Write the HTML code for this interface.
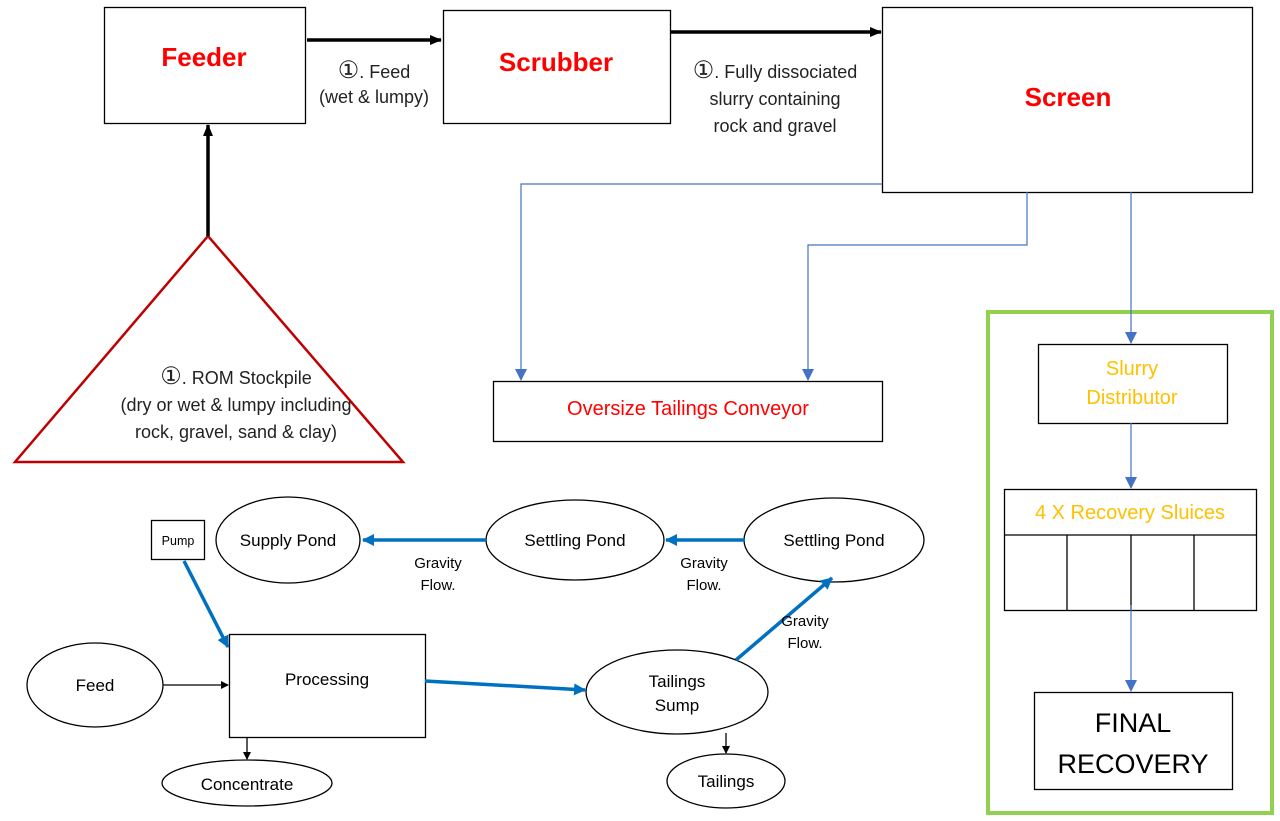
<!DOCTYPE html>
<html><head><style>body{margin:0;background:#fff}svg{display:block}text{font-family:"Liberation Sans",sans-serif}</style></head><body>
<svg width="1280" height="821" viewBox="0 0 1280 821" xmlns="http://www.w3.org/2000/svg">
<defs>
<marker id="ak" markerWidth="8" markerHeight="8" refX="7" refY="4" orient="auto" markerUnits="userSpaceOnUse"><path d="M0,0L8,4L0,8z" fill="#000"/></marker>
<marker id="akb" markerWidth="12" markerHeight="10" refX="11" refY="5" orient="auto" markerUnits="userSpaceOnUse"><path d="M0,0L12,5L0,10z" fill="#000"/></marker>
<marker id="ab" markerWidth="12" markerHeight="12" refX="11" refY="6" orient="auto" markerUnits="userSpaceOnUse"><path d="M0,0L12,6L0,12z" fill="#4472c4"/></marker>
<marker id="abb" markerWidth="12" markerHeight="12" refX="11" refY="6" orient="auto" markerUnits="userSpaceOnUse"><path d="M0,0L12,6L0,12z" fill="#0070c0"/></marker>
</defs>
<g fill="none" stroke="#000" stroke-width="1.3">
<rect x="104.5" y="7.5" width="201" height="116"/>
<rect x="443.5" y="10.5" width="227" height="113"/>
<rect x="882.5" y="7.5" width="370" height="185"/>
<rect x="493.5" y="381.5" width="389" height="60"/>
<rect x="1038.5" y="344.5" width="189" height="79"/>
<rect x="1004.5" y="489.5" width="252" height="121"/>
<path d="M1004 535H1256M1067 535V610M1131 535V610M1194 535V610"/>
<rect x="1034.5" y="692.5" width="198" height="97"/>
<rect x="151.5" y="520.5" width="53" height="39"/>
<ellipse cx="288" cy="540" rx="72" ry="43"/>
<ellipse cx="575" cy="540" rx="89" ry="40"/>
<ellipse cx="834" cy="540" rx="90" ry="42"/>
<rect x="229.5" y="634.5" width="196" height="103"/>
<ellipse cx="95" cy="685" rx="68" ry="42"/>
<ellipse cx="677" cy="692" rx="91" ry="42"/>
<ellipse cx="247" cy="783" rx="85" ry="23"/>
<ellipse cx="726" cy="781" rx="59" ry="27"/>
</g>
<rect x="988" y="312" width="284" height="501" fill="none" stroke="#92d050" stroke-width="4"/>
<polygon points="208,236 15,462 403,462" fill="none" stroke="#c00000" stroke-width="2.5"/>
<g stroke="#000" stroke-width="3.5" fill="none">
<line x1="307" y1="40" x2="441" y2="40" marker-end="url(#akb)"/>
<line x1="670" y1="32" x2="881" y2="32" marker-end="url(#akb)"/>
<line x1="208" y1="236" x2="208" y2="125" marker-end="url(#akb)"/>
</g>
<g stroke="#4472c4" stroke-width="1.2" fill="none">
<path d="M882 184H521V380" marker-end="url(#ab)"/>
<path d="M1027 192V245H808V380" marker-end="url(#ab)"/>
<path d="M1131 192V343" marker-end="url(#ab)"/>
<path d="M1131 423V488" marker-end="url(#ab)"/>
<path d="M1131 605V691" marker-end="url(#ab)"/>
</g>
<g stroke="#0070c0" stroke-width="3.5" fill="none">
<line x1="486" y1="540" x2="363" y2="540" marker-end="url(#abb)"/>
<line x1="745" y1="540" x2="666" y2="540" marker-end="url(#abb)"/>
<line x1="184" y1="561" x2="228" y2="647" marker-end="url(#abb)"/>
<line x1="425" y1="681" x2="585" y2="690" marker-end="url(#abb)"/>
<line x1="736" y1="660" x2="832" y2="578" marker-end="url(#abb)"/>
</g>
<g stroke="#000" stroke-width="1.3">
<line x1="163" y1="685" x2="228" y2="685" marker-end="url(#ak)"/>
<line x1="247" y1="737" x2="247" y2="759" marker-end="url(#ak)"/>
<line x1="726" y1="733" x2="726" y2="753" marker-end="url(#ak)"/>
</g>
<g text-anchor="middle">
<g fill="#ff0000" font-weight="bold" font-size="26">
<text x="204" y="66">Feeder</text>
<text x="556" y="71">Scrubber</text>
<text x="1068" y="106">Screen</text>
</g>
<g font-size="18" fill="#222">
<text x="374" y="78"><tspan font-size="24">①</tspan>. Feed</text>
<text x="374" y="103">(wet &amp; lumpy)</text>
<text x="775" y="78"><tspan font-size="24">①</tspan>. Fully dissociated</text>
<text x="775" y="105">slurry containing</text>
<text x="775" y="132">rock and gravel</text>
<text x="236" y="384"><tspan font-size="24">①</tspan>. ROM Stockpile</text>
<text x="236" y="411">(dry or wet &amp; lumpy including</text>
<text x="236" y="438">rock, gravel, sand &amp; clay)</text>
</g>
<text x="688" y="415" font-size="20" fill="#ff0000">Oversize Tailings Conveyor</text>
<g font-size="20" fill="#ffc000">
<text x="1132" y="375">Slurry</text>
<text x="1132" y="404">Distributor</text>
<text x="1130" y="519">4 X Recovery Sluices</text>
</g>
<g font-size="27" fill="#000">
<text x="1133" y="732">FINAL</text>
<text x="1133" y="773">RECOVERY</text>
</g>
<g font-size="17" fill="#000">
<text x="288" y="546">Supply Pond</text>
<text x="575" y="546">Settling Pond</text>
<text x="834" y="546">Settling Pond</text>
<text x="327" y="685">Processing</text>
<text x="95" y="691">Feed</text>
<text x="677" y="687">Tailings</text>
<text x="677" y="711">Sump</text>
<text x="247" y="790">Concentrate</text>
<text x="726" y="787">Tailings</text>
</g>
<text x="178" y="545" font-size="12.5">Pump</text>
<g font-size="15" fill="#000">
<text x="438" y="568">Gravity</text><text x="438" y="590">Flow.</text>
<text x="704" y="568">Gravity</text><text x="704" y="590">Flow.</text>
<text x="805" y="626">Gravity</text><text x="805" y="648">Flow.</text>
</g>
</g>
</svg>
</body></html>
